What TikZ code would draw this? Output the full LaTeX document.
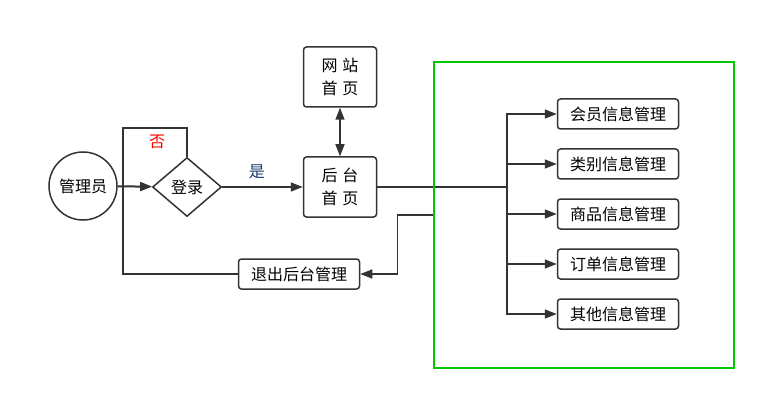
\documentclass[tikz,border=0pt]{standalone}
\usepackage{fontspec}
\setmainfont{Noto Sans CJK SC}
\usetikzlibrary{shapes.geometric,arrows.meta,positioning}
\definecolor{linegray}{HTML}{333333}
\definecolor{sysgreen}{HTML}{00C800}
\definecolor{yesblue}{HTML}{1A3A6E}
\newcommand{\zh}{\fontsize{16}{23}\selectfont}
\tikzset{
  box/.style={draw=linegray, line width=1.5pt, rounded corners=3pt, inner sep=0pt,
    minimum width=121pt, minimum height=30pt, font=\zh},
  page/.style={box, minimum width=73pt, minimum height=60pt, align=center},
  conn/.style={draw=linegray, line width=1.5pt},
  arr/.style={conn, -{Triangle[length=12pt,width=9pt]}}
}

\begin{document}
\begin{tikzpicture}[x=1pt,y=-1pt]
\useasboundingbox (0,0) rectangle (766,401);
% left part
\node[circle, draw=linegray, line width=1.5pt, minimum size=68pt, inner sep=0pt, font=\zh] (admin) at (83,186) {管理员};
\node[diamond, draw=linegray, line width=1.5pt, minimum width=69pt, minimum height=59pt, inner sep=0pt, font=\zh] (login) at (187,187) {登录};
\node[page] (site) at (340,77) {网\hspace{5pt}站\\首\hspace{5pt}页};
\node[page] (home) at (340,187) {后\hspace{5pt}台\\首\hspace{5pt}页};
\node[box] (logout) at (299,274) {退出后台管理};
\coordinate (loop) at (123,128);
\draw[conn] (login.north) |- (loop) |- (logout.west);
\draw[arr, line width=2pt] (admin) -- (login);
\draw[arr] (login) -- node[pos=0.43, above=4pt, text=yesblue, font=\zh] (yes) {是} (home);
\node[text=red, font=\zh] (no) at (157,142) {否};
\draw[conn, {Triangle[length=12pt,width=9pt]}-{Triangle[length=12pt,width=9pt]}] (site) -- (home);
% management modules
\foreach \i/\y/\t in {1/114/会员信息管理, 2/164/类别信息管理, 3/214/商品信息管理, 4/264/订单信息管理, 5/314/其他信息管理}
  \node[box] (m\i) at (618,\y) {\t};
\coordinate (fork) at (507,187);
\draw[conn, line width=2pt] (home) -- (fork);
\foreach \i in {1,...,5}
  \draw[arr] (fork) |- (m\i.west);
\node[draw=sysgreen, line width=1.5pt, minimum width=300pt, minimum height=306pt, inner sep=0pt] (sys) at (584,215) {};
\draw[arr] (sys.west) -- ++(-36,0) |- (logout.east);
\end{tikzpicture}
\end{document}
